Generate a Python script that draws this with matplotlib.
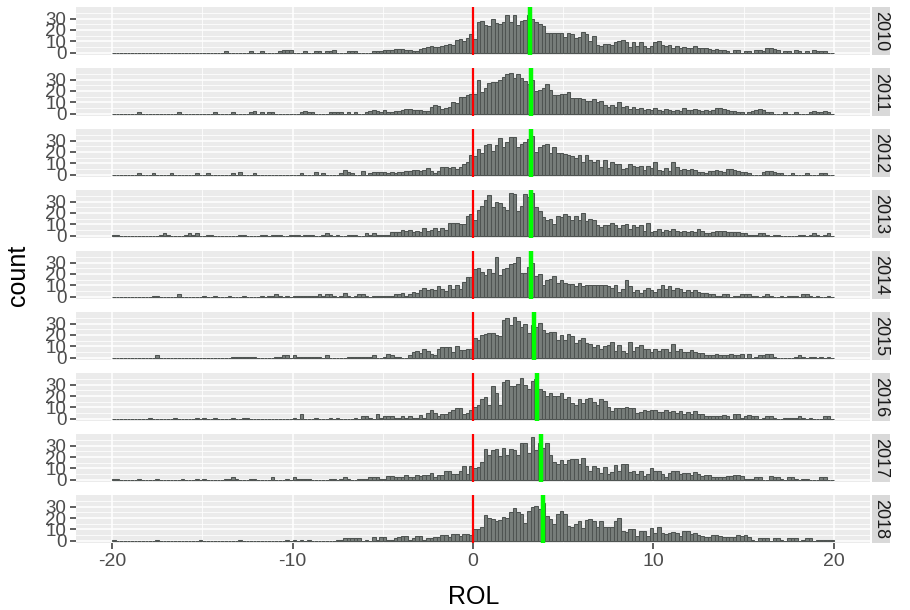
import numpy as np
import matplotlib.pyplot as plt
from matplotlib.patches import Rectangle

plt.rcParams['font.family'] = ['Liberation Sans', 'DejaVu Sans']

years = ['2010', '2011', '2012', '2013', '2014', '2015', '2016', '2017', '2018']
# green line per year (mean ROL)
means = [3.17, 3.23, 3.24, 3.24, 3.23, 3.37, 3.56, 3.76, 3.89]

# counts per 0.2 bin from -20 to 20: left tail (-20..-4), middle (-4..12.6), right tail (12.6..20)
counts_2010 = (
    [0,0,0,0,0,0,0,0,0,0, 0,0,0,0,0,0,0,0,0,0, 0,0,0,0,0,0,0,0,0,0, 0,1,0,0,0,0,0,0,1,0,
     0,1,0,0,0,0,1,2,2,2, 0,0,0,1,0,0,1,1,0,1, 1,2,0,0,0,1,1,1,0,0, 0,0,1,1,1,2,2,2,3,3] +
    [3,2,2,1,1,3,4,5,6,5,5,6,7,8,7,11,12,10,13,16,
     12,27,28,24,23,30,26,25,27,33,27,33,24,28,29,33,
     30,27,25,23,17,17,17,17,17,14,17,16,13,14,18,16,10,15,7,6,8,8,7,9,10,11,9,5,9,6,9,6,4,6,9,10,7,6,7,4,6,4,5,4,4,6,4] +
    [4,4,3,2,3,2,2,1,0,2, 2,0,1,1,0,2,2,1,4,4, 3,2,0,1,1,0,2,1,0,1, 0,2,1,1,1,0,0]
)
counts_2011 = (
    [0,0,0,0,0,0,0,1,0,0, 0,0,0,0,0,0,0,0,1,0, 0,0,0,0,0,0,0,0,1,0, 0,0,0,1,0,0,0,0,1,2,
     0,1,0,1,1,0,0,0,0,0, 0,0,1,2,1,1,0,0,0,0, 1,1,1,1,0,1,0,1,0,0, 1,2,3,2,1,3,1,1,2,2] +
    [3,4,4,3,3,3,2,2,6,8,7,4,5,6,10,9,15,15,16,17,
     17,30,19,23,27,28,28,30,32,35,36,31,35,31,29,26,30,
     20,21,23,26,21,16,16,17,17,19,14,14,14,13,11,11,13,10,11,8,6,8,6,10,6,7,4,6,4,5,3,4,3,5,3,2,4,3,2,3,2,5,3,3,4,3] +
    [2,3,2,3,5,5,4,3,2,2, 1,1,0,1,2,3,4,3,1,1, 0,0,0,1,0,0,1,0,0,0, 1,2,1,1,2,1,0]
)
counts_2012 = (
    [0,0,0,0,0,0,0,1,0,0, 0,1,0,0,0,0,1,0,0,0, 0,0,0,1,0,0,1,0,0,0, 0,0,0,1,0,2,0,0,0,1,
     0,0,0,0,0,0,0,0,0,0, 0,0,1,0,0,0,2,0,1,0, 0,0,0,1,4,2,1,0,0,3, 0,1,2,2,2,2,1,2,1,2] +
    [2,3,3,4,4,3,4,6,3,1,3,7,7,6,7,5,7,9,11,17,
     16,23,19,26,27,21,26,32,24,29,33,33,24,27,29,31,34,
     20,24,26,27,19,24,19,19,18,17,16,15,17,11,17,13,11,13,7,13,6,11,9,9,5,6,9,8,7,8,4,8,6,11,4,3,6,3,11,7,4,5,4,5,4,2] +
    [2,1,3,3,4,3,2,5,5,4, 3,2,2,1,0,0,0,2,3,3, 2,1,1,0,0,1,0,0,0,1, 0,0,0,1,1,0,0]
)
counts_2013 = (
    [1,1,0,0,0,0,0,0,0,0, 0,0,0,1,2,1,0,0,0,0, 1,2,1,2,0,0,1,1,0,0, 0,0,0,0,0,1,1,0,0,0,
     0,1,1,0,1,1,1,0,0,1, 1,1,0,1,1,1,0,0,1,2, 1,0,1,0,0,1,1,1,0,0, 2,1,2,1,1,1,1,3,3,3] +
    [5,4,5,3,4,3,7,4,5,7,4,7,5,11,11,11,10,10,17,19,
     14,23,26,31,36,25,30,29,25,23,38,37,22,26,37,34,38,
     25,22,16,14,15,10,17,16,19,17,14,17,14,20,13,15,14,9,8,9,9,11,9,7,9,10,6,9,8,9,4,11,3,4,6,3,5,4,6,4,3,4,3,4,3,6] +
    [4,2,2,3,4,4,4,3,3,3, 3,2,2,1,1,1,2,2,1,0, 1,1,0,0,0,0,0,1,1,0, 1,2,1,0,1,2,0]
)
counts_2014 = (
    [0,0,0,0,0,0,0,0,0,0, 0,1,1,0,0,0,0,0,2,0, 0,0,0,0,0,1,0,0,1,0, 0,0,1,0,0,0,1,0,0,0,
     0,1,0,1,1,2,1,0,1,0, 1,1,1,1,1,1,1,2,1,2, 2,1,0,1,3,1,0,1,2,2, 1,0,1,1,1,1,1,1,2,2] +
    [3,1,2,4,3,6,8,6,7,6,9,7,5,10,7,10,7,13,17,17,
     24,25,22,19,24,21,35,19,24,25,29,30,35,21,21,26,30,
     18,20,10,15,16,18,12,15,12,11,11,9,12,9,10,10,10,10,10,10,9,8,10,4,7,15,9,4,6,3,6,8,6,4,7,10,7,9,6,8,7,4,6,4,6,4] +
    [3,3,2,2,1,1,2,2,0,1, 1,2,2,2,1,1,0,1,2,1, 0,0,1,0,1,1,1,0,2,2, 1,0,1,0,0,1,0]
)
counts_2015 = (
    [0,0,0,0,0,0,0,0,0,0, 0,0,2,0,0,0,0,0,0,0, 0,0,0,0,0,0,0,0,0,0, 0,0,0,1,1,1,1,1,1,1,
     0,0,0,0,0,1,1,2,2,0, 2,1,1,1,1,1,1,1,0,2, 0,0,0,0,0,1,1,1,1,1, 1,1,2,0,0,1,3,2,1,1] +
    [0,0,2,5,6,4,8,6,3,2,8,9,9,9,5,10,7,7,8,8,
     17,16,20,21,22,22,20,19,33,35,29,36,32,27,30,22,
     29,27,31,24,22,23,23,16,20,16,21,19,13,16,17,13,12,9,11,8,10,11,14,6,11,6,4,14,6,9,11,8,8,5,8,6,8,8,5,12,6,8,5,5,7,5,4] +
    [4,2,2,2,3,2,2,2,3,2, 2,3,0,3,0,1,2,2,3,3, 1,0,0,0,0,0,1,2,1,0, 1,1,0,1,0,1,0]
)
counts_2016 = (
    [0,0,0,0,0,0,0,0,0,0, 1,0,0,0,0,0,0,1,0,0, 0,0,0,1,0,1,0,0,1,0, 0,0,0,1,0,0,1,1,0,0,
     0,0,0,0,0,0,0,0,0,0, 1,0,4,0,0,0,1,0,0,0, 1,0,1,0,0,0,0,1,0,2, 2,1,0,4,1,2,2,2,1,1] +
    [2,1,2,1,1,3,1,5,8,5,2,4,4,6,8,9,9,4,5,8,
     10,12,17,19,12,29,23,12,32,34,29,29,31,36,30,26,33,35,
     26,24,20,23,20,20,23,17,19,14,12,17,14,17,18,15,12,17,16,10,7,9,9,9,10,9,9,5,6,8,7,8,8,6,6,8,6,7,5,7,4,6,4,7,4] +
    [4,2,2,2,2,2,3,2,0,4, 4,1,2,3,2,2,0,1,2,2, 1,0,0,1,1,1,1,2,1,0, 1,0,0,0,2,2,0]
)
counts_2017 = (
    [1,1,0,0,0,0,0,1,0,0, 0,0,1,0,0,0,0,0,0,1, 0,0,0,1,0,1,0,0,0,0, 0,1,1,2,1,0,0,0,1,1,
     0,0,0,0,2,0,0,0,1,0, 2,1,1,1,1,0,0,0,0,0, 1,1,0,1,2,1,0,0,1,1, 1,2,2,2,1,1,3,3,2,2] +
    [2,4,2,2,4,3,4,4,6,2,4,4,8,8,5,5,8,12,5,12,
     10,11,16,27,22,26,27,21,28,22,27,26,22,32,32,24,38,26,32,
     28,32,22,16,14,17,14,17,18,18,14,19,12,8,12,10,6,11,5,7,13,8,14,14,7,8,5,8,3,5,10,8,8,5,2,6,8,8,5,6,6,4,7,5] +
    [3,4,4,2,2,2,2,3,3,4, 4,3,1,1,1,2,2,0,0,3, 2,2,1,0,2,2,1,0,1,1, 0,0,0,2,2,0,0]
)
counts_2018 = (
    [1,0,0,0,0,0,0,0,0,0, 0,0,1,0,0,0,0,0,0,0, 0,0,0,0,1,0,0,0,0,0, 0,0,0,0,0,1,0,0,0,0,
     0,0,0,0,0,0,0,0,1,0, 1,0,1,0,1,0,0,0,0,0, 0,0,1,1,2,2,2,2,2,0, 1,0,3,1,3,3,1,1,2,3] +
    [4,4,1,2,4,4,1,2,2,3,3,5,5,3,6,6,4,6,6,5,
     10,10,12,23,20,19,17,18,21,20,25,29,25,24,16,26,30,31,28,33,
     22,19,15,24,26,24,13,12,15,17,11,18,19,17,12,17,12,12,12,17,20,9,8,10,10,4,9,9,4,11,7,12,7,6,7,8,7,4,9,9,6,7,5] +
    [4,3,3,5,5,4,3,3,3,3, 5,4,5,3,1,0,2,2,2,0, 2,2,1,0,2,2,2,0,1,2, 2,0,1,1,1,1,1]
)

all_counts = [counts_2010, counts_2011, counts_2012, counts_2013, counts_2014,
              counts_2015, counts_2016, counts_2017, counts_2018]

edges = np.linspace(-20, 20, 201)
ymax = max(max(c) for c in all_counts)

fig, axes = plt.subplots(len(years), 1, figsize=(9.1, 6.1), dpi=100, sharex=True)
fig.subplots_adjust(left=0.0835, right=0.956, top=0.988, bottom=0.110, hspace=0.287)

for ax, year, counts, m in zip(axes, years, all_counts, means):
    ax.set_facecolor('#ebebeb')
    ax.bar(edges[:-1], counts, width=0.2, align='edge', color='#777d7a',
           edgecolor='#4f5452', linewidth=0.75, zorder=2)
    ax.axvline(0, color='#ff0000', lw=1.6, zorder=3)
    ax.axvline(m, color='#00ff00', lw=3.2, zorder=3)

    ax.set_xlim(-22, 22)
    ax.set_ylim(-0.05 * ymax, 1.05 * ymax)
    ax.set_xticks([-20, -10, 0, 10, 20])
    ax.set_xticks([-15, -5, 5, 15], minor=True)
    ax.set_yticks([0, 10, 20, 30])
    ax.set_yticks([5, 15, 25, 35], minor=True)
    ax.grid(which='major', color='white', lw=1.1, zorder=0)
    ax.grid(which='minor', color='white', lw=0.55, zorder=0)
    ax.set_axisbelow(True)
    for s in ax.spines.values():
        s.set_visible(False)
    ax.tick_params(which='minor', length=0)
    ax.tick_params(axis='y', which='major', length=4, width=1.1, color='#333333',
                   labelsize=13.5, labelcolor='#4d4d4d', pad=3)
    ax.tick_params(axis='x', which='major', length=0, labelbottom=False)

    # facet strip on the right
    ax.add_patch(Rectangle((1.002, 0), 0.023, 1, transform=ax.transAxes,
                           facecolor='#d9d9d9', edgecolor='none', clip_on=False))
    ax.text(1.0135, 0.5, year, transform=ax.transAxes, rotation=-90,
            ha='center', va='center', fontsize=13, color='#1a1a1a')

bottom = axes[-1]
bottom.tick_params(axis='x', which='major', length=4, width=1.1, color='#333333',
                   labelbottom=True, labelsize=14, labelcolor='#4d4d4d', pad=3)
bottom.set_xticklabels(['-20', '-10', '0', '10', '20'])

fig.text(0.52, 0.022, 'ROL', ha='center', va='center', fontsize=18, color='black')
fig.text(0.02, 0.549, 'count', ha='center', va='center', rotation=90, fontsize=18, color='black')

fig.savefig('out.png', dpi=100)
